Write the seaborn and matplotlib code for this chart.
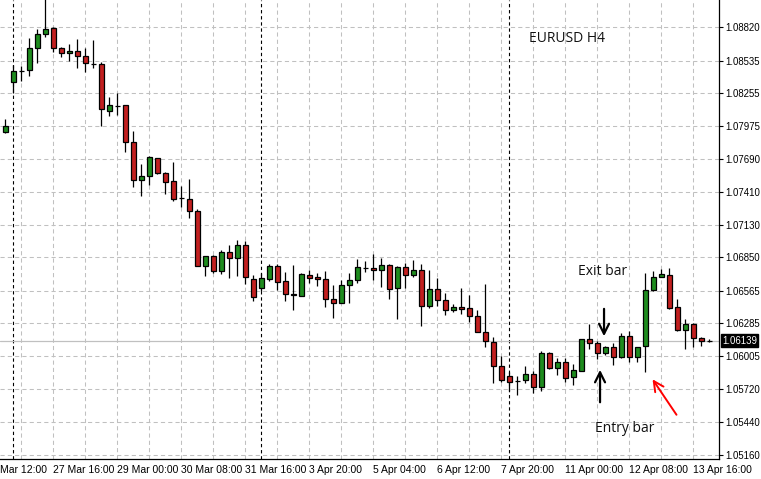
import numpy as np
import pandas as pd
import matplotlib
matplotlib.use("Agg")
import matplotlib.pyplot as plt
import seaborn as sns

# EURUSD H4 candles
open_ = [1.07921, 1.08349, 1.08449, 1.08452, 1.08640, 1.08763, 1.08811, 1.08640, 1.08597, 1.08615,
         1.08572, 1.08508, 1.08506, 1.08101, 1.08149, 1.08152, 1.07836, 1.07510, 1.07545, 1.07699,
         1.07570, 1.07502, 1.07356, 1.07348, 1.07245, 1.06779, 1.06860, 1.06736, 1.06894, 1.06843,
         1.06954, 1.06663, 1.06586, 1.06668, 1.06774, 1.06646, 1.06537, 1.06523, 1.06697, 1.06680,
         1.06663, 1.06492, 1.06457, 1.06612, 1.06654, 1.06762, 1.06757, 1.06740, 1.06783, 1.06586,
         1.06766, 1.06697, 1.06740, 1.06437, 1.06577, 1.06483, 1.06398, 1.06423, 1.06415, 1.06346,
         1.06209, 1.06124, 1.05918, 1.05833, 1.05795, 1.05798, 1.05850, 1.05738, 1.06029, 1.05901,
         1.05952, 1.05824, 1.05875, 1.06149, 1.06115, 1.06029, 1.06081, 1.05995, 1.06175, 1.05995,
         1.06089, 1.06569, 1.06680, 1.06697, 1.06423, 1.06226, 1.06278, 1.06158, 1.06139]
high = [1.08035, 1.08497, 1.08491, 1.08731, 1.08805, 1.09060, 1.08820, 1.08651, 1.08677, 1.08720,
        1.08645, 1.08711, 1.08523, 1.08223, 1.08255, 1.08152, 1.07932, 1.07650, 1.07718, 1.07704,
        1.07581, 1.07667, 1.07462, 1.07521, 1.07265, 1.06860, 1.06868, 1.06914, 1.06957, 1.07002,
        1.06991, 1.06700, 1.06714, 1.06794, 1.06794, 1.06725, 1.06785, 1.06717, 1.06743, 1.06717,
        1.06734, 1.06614, 1.06654, 1.06717, 1.06834, 1.06820, 1.06879, 1.06843, 1.06794, 1.06777,
        1.06802, 1.06828, 1.06794, 1.06743, 1.06674, 1.06548, 1.06449, 1.06588, 1.06526, 1.06403,
        1.06620, 1.06166, 1.06006, 1.05867, 1.05835, 1.05918, 1.05875, 1.06047, 1.06038, 1.05989,
        1.05989, 1.05935, 1.06149, 1.06280, 1.06132, 1.06089, 1.06118, 1.06201, 1.06220, 1.06081,
        1.06714, 1.06731, 1.06751, 1.06757, 1.06492, 1.06320, 1.06286, 1.06166, 1.06149]
low = [1.07913, 1.08255, 1.08363, 1.08406, 1.08517, 1.08740, 1.08611, 1.08568, 1.08532, 1.08474,
       1.08440, 1.08474, 1.07978, 1.08063, 1.08069, 1.07755, 1.07456, 1.07379, 1.07470, 1.07562,
       1.07396, 1.07336, 1.07284, 1.07188, 1.06779, 1.06694, 1.06719, 1.06708, 1.06677, 1.06694,
       1.06623, 1.06477, 1.06565, 1.06651, 1.06571, 1.06480, 1.06400, 1.06523, 1.06631, 1.06608,
       1.06428, 1.06334, 1.06457, 1.06463, 1.06634, 1.06728, 1.06660, 1.06600, 1.06497, 1.06326,
       1.06586, 1.06685, 1.06266, 1.06415, 1.06437, 1.06360, 1.06380, 1.06363, 1.06300, 1.06209,
       1.06081, 1.05778, 1.05781, 1.05704, 1.05675, 1.05773, 1.05687, 1.05704, 1.05893, 1.05846,
       1.05786, 1.05758, 1.05875, 1.06064, 1.05978, 1.06012, 1.05927, 1.05987, 1.05952, 1.05952,
       1.05867, 1.06560, 1.06680, 1.06406, 1.06218, 1.06069, 1.06081, 1.06089, 1.06124]
close = [1.07975, 1.08446, 1.08449, 1.08640, 1.08763, 1.08803, 1.08640, 1.08597, 1.08615, 1.08577,
         1.08512, 1.08508, 1.08118, 1.08152, 1.08149, 1.07836, 1.07510, 1.07545, 1.07710, 1.07570,
         1.07498, 1.07353, 1.07356, 1.07245, 1.06779, 1.06860, 1.06736, 1.06894, 1.06843, 1.06954,
         1.06680, 1.06509, 1.06671, 1.06774, 1.06642, 1.06535, 1.06526, 1.06708, 1.06677, 1.06663,
         1.06492, 1.06457, 1.06612, 1.06654, 1.06766, 1.06762, 1.06740, 1.06783, 1.06577, 1.06766,
         1.06697, 1.06740, 1.06437, 1.06577, 1.06483, 1.06398, 1.06423, 1.06406, 1.06346, 1.06209,
         1.06132, 1.05918, 1.05798, 1.05781, 1.05795, 1.05850, 1.05738, 1.06029, 1.05906, 1.05952,
         1.05815, 1.05884, 1.06149, 1.06115, 1.06029, 1.06081, 1.05995, 1.06175, 1.05995, 1.06081,
         1.06569, 1.06680, 1.06706, 1.06415, 1.06226, 1.06278, 1.06158, 1.06132, 1.06139]

price_labels = ["1.08820", "1.08535", "1.08255", "1.07975", "1.07690", "1.07410", "1.07130",
                "1.06850", "1.06565", "1.06285", "1.06005", "1.05720", "1.05440", "1.05160"]
time_labels = ["27 Mar 16:00", "29 Mar 00:00", "30 Mar 08:00", "31 Mar 16:00", "3 Apr 20:00",
               "5 Apr 04:00", "6 Apr 12:00", "7 Apr 20:00", "11 Apr 00:00", "12 Apr 08:00",
               "13 Apr 16:00"]
first_label = "Mar 12:00"
week_starts = [1, 32, 63]
last_price = "1.06139"

df = pd.DataFrame({"open": open_, "high": high, "low": low, "close": close})
df["idx"] = np.arange(len(df))

sns.set_theme(style="white")
plt.rcParams["font.family"] = ["Liberation Sans", "DejaVu Sans"]
Y_FS = 6.9
X_FS = 7.5

W, H = 761, 479
fig = plt.figure(figsize=(W / 100, H / 100), dpi=100)
ax = fig.add_axes([0, 1 - 459 / H, 719 / W, 459 / H])

x_lo, x_hi = -0.66, 89.21
ax.set_xlim(x_lo, x_hi)
ax.set_ylim(1.05125, 1.09054)

grid_kw = dict(color="#c0c0c0", lw=0.75, ls=(0, (4, 3)), zorder=0)
for p in price_labels:
    ax.axhline(float(p), **grid_kw)
for gx in range(2, len(df), 4):
    ax.axvline(gx, **grid_kw)
for ws in week_starts:
    ax.axvline(ws, color="black", lw=0.8, ls=(0, (3, 2.5)), zorder=1)

# current price line
ax.axhline(float(last_price), color="#c0c0c0", lw=0.9, zorder=1)

# candles
up = df["close"] > df["open"]
dn = df["close"] < df["open"]
colors = np.where(up, "#1e8c1e", np.where(dn, "#c21f1f", "black"))
ax.vlines(df["idx"], df["low"], df["high"], color="black", lw=0.9, zorder=2)
body_lo = df[["open", "close"]].min(axis=1)
body_h = (df["close"] - df["open"]).abs()
ax.bar(df["idx"], body_h, bottom=body_lo, width=0.62, color=colors,
       edgecolor="black", linewidth=0.9, zorder=3)

# axes styling
for s in ["top", "left"]:
    ax.spines[s].set_visible(False)
for s in ["right", "bottom"]:
    ax.spines[s].set_color("black")
    ax.spines[s].set_linewidth(0.9)

ax.yaxis.tick_right()
ax.set_yticks([float(p) for p in price_labels], price_labels)
ax.set_xticks(list(range(6, len(df), 8)), time_labels)
for lbl in ax.get_xticklabels():
    lbl.set_ha("left")
ax.tick_params(axis="both", direction="out", length=3, width=0.8, color="black",
               labelcolor="black")
ax.tick_params(axis="x", pad=1.5, labelsize=X_FS)
ax.tick_params(axis="y", pad=1.5, labelsize=Y_FS)
ax.annotate(first_label, xy=(x_lo, 0), xycoords=("data", "axes fraction"),
            xytext=(0, -4.5), textcoords="offset points",
            ha="left", va="top", fontsize=X_FS, color="black", annotation_clip=False)

# last price box
ax.annotate(last_price, xy=(1.0045, float(last_price)), xycoords=("axes fraction", "data"),
            ha="left", va="center", fontsize=Y_FS, color="white", annotation_clip=False,
            bbox=dict(boxstyle="square,pad=0.12", fc="black", ec="black"))

# annotations
txt_kw = dict(fontsize=10, family=["Open Sans", "DejaVu Sans"], color="#111111",
              ha="center", va="center")
ax.text(70.2, 1.08728, "EURUSD H4", **txt_kw)
ax.text(74.6, 1.06727, "Exit bar", **txt_kw)
ax.text(77.4, 1.05390, "Entry bar", **txt_kw)

ax.annotate("", xy=(74.84, 1.06152), xytext=(74.84, 1.06434),
            arrowprops=dict(arrowstyle="->,head_length=0.6,head_width=0.3", color="black", lw=1.6))
ax.annotate("", xy=(74.34, 1.05912), xytext=(74.34, 1.05587),
            arrowprops=dict(arrowstyle="->,head_length=0.6,head_width=0.3", color="black", lw=1.6))
ax.annotate("", xy=(80.71, 1.05827), xytext=(84.09, 1.05484),
            arrowprops=dict(arrowstyle="->,head_length=0.6,head_width=0.3", color="red", lw=1.4))

fig.savefig("out.png", dpi=100)
